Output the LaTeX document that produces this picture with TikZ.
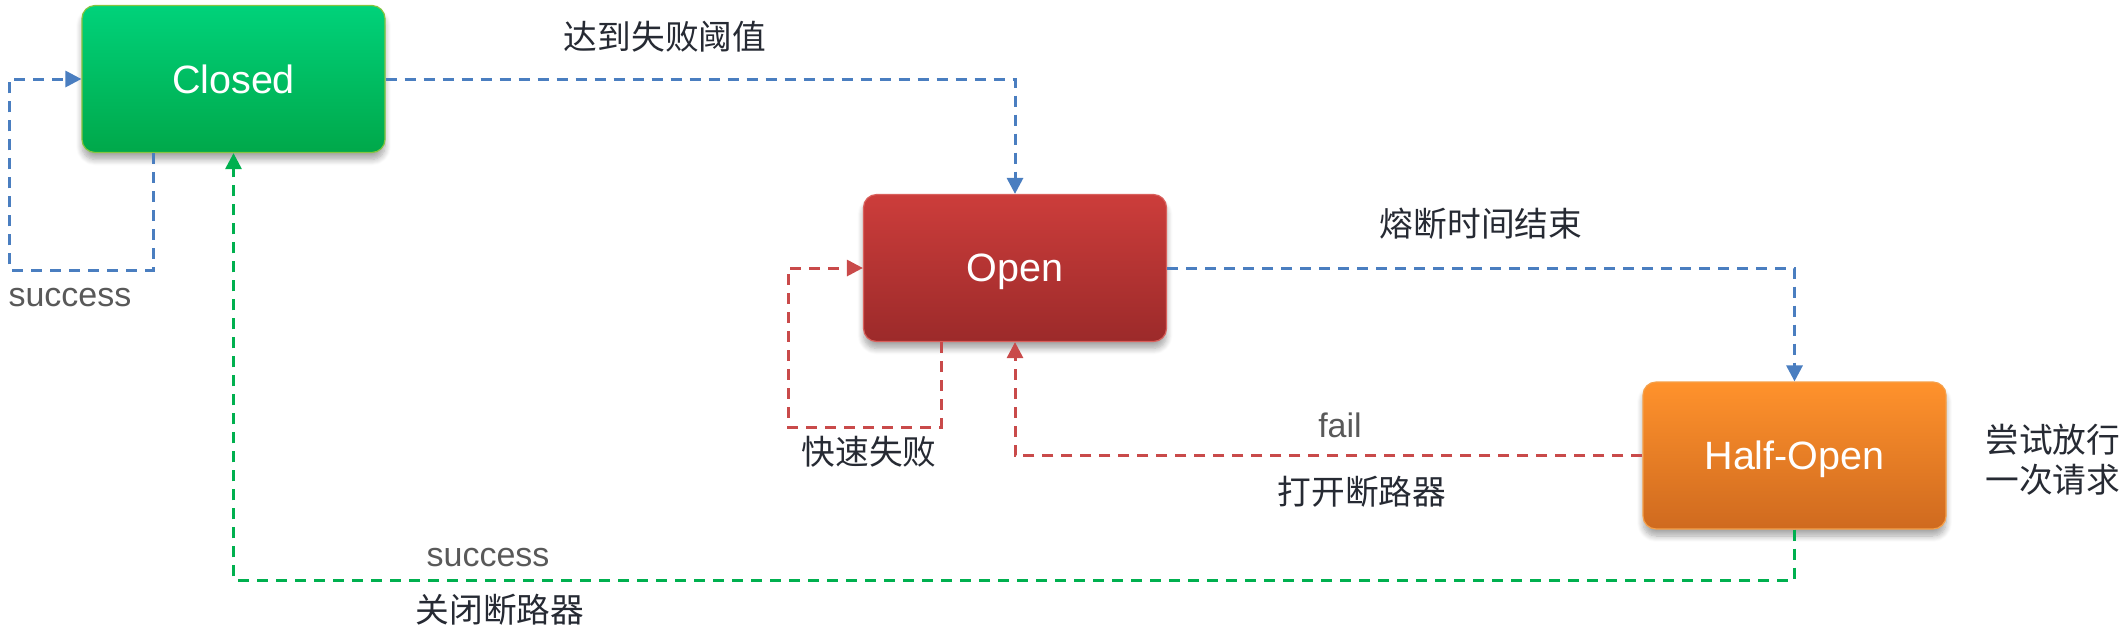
\documentclass[tikz,border=0pt]{standalone}
\usepackage{fontspec}
\setmainfont{Liberation Sans}
\newfontfamily\cjk{Noto Sans CJK SC}
\usepackage{xcolor}
\usetikzlibrary{arrows.meta, shadows.blur}

\definecolor{closedtop}{HTML}{00D27A}
\definecolor{closedbot}{HTML}{00A84A}
\definecolor{closedrim}{HTML}{86C440}
\definecolor{opentop}{HTML}{CC3D3B}
\definecolor{openbot}{HTML}{9C2A2A}
\definecolor{openrim}{HTML}{D9605C}
\definecolor{halftop}{HTML}{FF922C}
\definecolor{halfbot}{HTML}{CF6A1F}
\definecolor{halfrim}{HTML}{F5A04A}
\definecolor{lineblue}{HTML}{4A7EC0}
\definecolor{linered}{HTML}{C94A4A}
\definecolor{linegreen}{HTML}{00B04F}
\definecolor{cjkgray}{HTML}{262A33}
\definecolor{latgray}{HTML}{595959}

\tikzset{
  state/.style={rectangle, rounded corners=6.5pt, minimum width=151.5pt, minimum height=73.5pt,
    text=white, text depth=0pt, font=\fontsize{19.75}{24}\selectfont, line width=0.6pt,
    blur shadow={shadow xshift=0pt, shadow yshift=-3.5pt, shadow blur steps=8, shadow blur radius=3pt, shadow opacity=35}},
  link/.style={line width=1.5pt, dash pattern=on 5.5pt off 4pt, -{Triangle[width=8pt,length=8pt]}},
  cjklabel/.style={text=cjkgray, font=\cjk\fontsize{16.85}{20}\selectfont, inner sep=0pt},
  latlabel/.style={text=latgray, font=\fontsize{17}{20}\selectfont, inner sep=0pt}
}

\begin{document}
\begin{tikzpicture}[x=0.5pt, y=-0.5pt]
        \useasboundingbox (0,0) rectangle (2128,634);

        \node[state, draw=closedrim, top color=closedtop, bottom color=closedbot] (Closed) at (233.5, 79) {Closed};
        \node[state, draw=openrim, top color=opentop, bottom color=openbot] (Open) at (1015, 268) {Open};
        \node[state, draw=halfrim, top color=halftop, bottom color=halfbot] (HalfOpen) at (1794.5, 455.5) {Half-Open};

        \coordinate (closedLoopA) at (153, 270);
        \coordinate (closedLoopB) at (9.5, 270);
        \coordinate (openLoopA) at (941, 427);
        \coordinate (openLoopB) at (788, 427);
        \coordinate (closeBack) at (233.5, 580);

        \draw[link, lineblue] (Closed.east) -| (Open.north);
        \draw[link, lineblue] (Closed.south -| closedLoopA) -- (closedLoopA) -- (closedLoopB) |- (Closed.west);
        \draw[link, lineblue] (Open.east) -| (HalfOpen.north);
        \draw[link, linered] (Open.south -| openLoopA) -- (openLoopA) -- (openLoopB) |- (Open.west);
        \draw[link, linered] (HalfOpen.west) -| (Open.south);
        \draw[link, linegreen] (HalfOpen.south) |- (closeBack) -- (Closed.south);

        \node[cjklabel] (lblReach) at (665, 37) {达到失败阈值};
        \node[latlabel] (lblClosedOk) at (70, 298) {success};
        \node[cjklabel] (lblTimeout) at (1481, 224) {熔断时间结束};
        \node[cjklabel] (lblFastFail) at (869, 452) {快速失败};
        \node[latlabel] (lblFail) at (1340, 425) {fail};
        \node[cjklabel] (lblOpenIt) at (1362, 492) {打开断路器};
        \node[latlabel] (lblHalfOk) at (488, 557.5) {success};
        \node[cjklabel] (lblCloseIt) at (500, 610) {关闭断路器};
        \node[cjklabel, anchor=west, align=left] (lblTry) at (1985, 460) {尝试放行\\一次请求};
    \end{tikzpicture}
\end{document}
